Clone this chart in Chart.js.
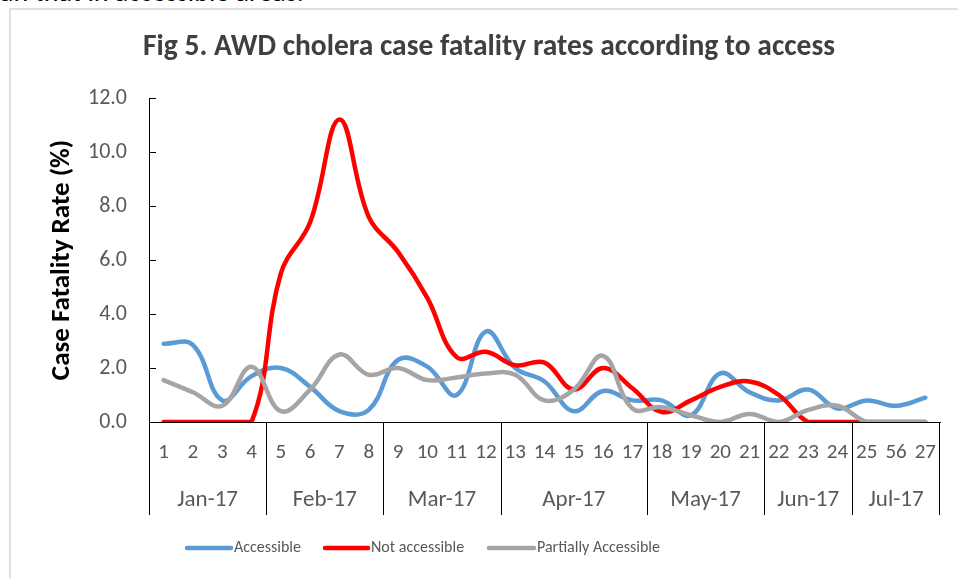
<!DOCTYPE html>
<html lang="en">
<head>
  <meta charset="UTF-8">
  <title>Fig 5. AWD cholera case fatality rates according to access</title>
  <script src="https://cdn.jsdelivr.net/npm/chart.js"></script>
  <style>
    body {
      margin: 0;
      width: 958px;
      height: 578px;
      overflow: hidden;
      background: #fff;
      position: relative;
      font-family: Carlito, Lato, sans-serif;
    }
    .page-text {
      position: absolute;
      left: 0;
      top: -22px;
      font-size: 28px;
      line-height: 28px;
      color: #000;
      white-space: nowrap;
    }
    .frame {
      position: absolute;
      left: 9px;
      top: 8px;
      width: 1000px;
      height: 600px;
      border-left: 2px solid #e0e0e0;
      border-top: 2px solid #e0e0e0;
    }
    canvas {
      position: absolute;
      left: 0;
      top: 0;
    }
  </style>
</head>
<body>
  <div class="page-text">an that in accessible areas.</div>
  <div class="frame"></div>
  <canvas id="cfrChart" width="958" height="578"></canvas>

  <script>
    const FONT = 'Carlito, Lato, sans-serif';

    // week labels along the x axis (the 26th reads "56" in the source)
    const weeks = ['1', '2', '3', '4', '5', '6', '7', '8', '9', '10', '11', '12', '13', '14',
      '15', '16', '17', '18', '19', '20', '21', '22', '23', '24', '25', '56', '27'];
    const months = ['Jan-17', 'Feb-17', 'Mar-17', 'Apr-17', 'May-17', 'Jun-17', 'Jul-17'];
    const weeksPerMonth = [4, 4, 4, 5, 4, 3, 3];

    const accessible = [2.9, 2.85, 0.8, 1.7, 2.0, 1.3, 0.4, 0.45, 2.3, 2.05, 1.0, 3.35, 2.0, 1.5,
      0.4, 1.15, 0.8, 0.8, 0.25, 1.8, 1.1, 0.8, 1.2, 0.5, 0.8, 0.6, 0.9];
    const notAccessible = [0, 0, 0, 0, 5.5, 7.4, 11.2, 7.6, 6.3, 4.6, 2.4, 2.6, 2.1, 2.2,
      1.2, 2.0, 1.25, 0.37, 0.8, 1.3, 1.5, 1.0, 0, 0, 0, 0, 0];
    const partiallyAccessible = [1.55, 1.1, 0.6, 2.05, 0.4, 1.2, 2.5, 1.75, 2.0, 1.55, 1.65, 1.8, 1.75, 0.8,
      1.2, 2.45, 0.5, 0.55, 0.25, 0, 0.3, 0, 0.45, 0.6, 0, 0, 0];

    const seriesNames = ['Accessible', 'Not accessible', 'Partially Accessible'];
    const seriesColors = ['#5B9BD5', '#FF0000', '#A5A5A5'];

    // font size that makes text span the given width
    function fitSize(ctx, text, width, weight) {
      ctx.font = weight + ' 100px ' + FONT;
      return 100 * width / ctx.measureText(text).width;
    }

    const decorations = {
      id: 'decorations',
      afterDraw(chart) {
        const { ctx, chartArea, scales: { x, y } } = chart;
        ctx.save();

        // inside tick marks on the value axis
        ctx.strokeStyle = '#000';
        ctx.lineWidth = 1;
        y.ticks.forEach(t => {
          const py = Math.round(y.getPixelForValue(t.value)) + 0.5;
          ctx.beginPath();
          ctx.moveTo(chartArea.left, py);
          ctx.lineTo(chartArea.left + 7, py);
          ctx.stroke();
        });

        // month groups under the week numbers
        const step = x.getPixelForValue(1) - x.getPixelForValue(0);
        const lineBottom = chartArea.bottom + 93;
        ctx.fillStyle = '#595959';
        ctx.font = '23px ' + FONT;
        ctx.textAlign = 'center';
        ctx.textBaseline = 'middle';
        let start = 0;
        weeksPerMonth.forEach((n, i) => {
          const x0 = x.getPixelForValue(start) - step / 2;
          const x1 = x.getPixelForValue(start + n - 1) + step / 2;
          const px = Math.round(x0) + 0.5;
          ctx.beginPath();
          ctx.moveTo(px, chartArea.bottom);
          ctx.lineTo(px, lineBottom);
          ctx.stroke();
          ctx.fillText(months[i], (x0 + x1) / 2, 500);
          start += n;
        });
        const xr = Math.round(chartArea.right) - 0.5;
        ctx.beginPath();
        ctx.moveTo(xr, chartArea.bottom);
        ctx.lineTo(xr, lineBottom);
        ctx.stroke();

        // title
        const title = 'Fig 5. AWD cholera case fatality rates according to access';
        const ts = fitSize(ctx, title, 692, 'bold');
        ctx.font = 'bold ' + ts + 'px ' + FONT;
        ctx.fillStyle = '#404040';
        ctx.textAlign = 'center';
        ctx.fillText(title, 489, 48);

        // legend
        const legendLines = [[187, 231], [325, 368], [489, 534]];
        ctx.font = '16px ' + FONT;
        ctx.textAlign = 'left';
        ctx.lineCap = 'round';
        ctx.lineWidth = 4.5;
        seriesNames.forEach((name, i) => {
          const [a, b] = legendLines[i];
          ctx.strokeStyle = seriesColors[i];
          ctx.beginPath();
          ctx.moveTo(a, 548);
          ctx.lineTo(b, 548);
          ctx.stroke();
          ctx.fillStyle = '#595959';
          ctx.fillText(name, b + 3, 548);
        });

        ctx.restore();
      }
    };

    const series = [accessible, notAccessible, partiallyAccessible];

    new Chart(document.getElementById('cfrChart'), {
      type: 'line',
      data: {
        labels: weeks,
        datasets: series.map((d, i) => ({
          label: seriesNames[i],
          data: d,
          borderColor: seriesColors[i],
          backgroundColor: seriesColors[i],
          borderWidth: 4.5,
          borderCapStyle: 'round',
          borderJoinStyle: 'round',
          pointRadius: 0,
          pointHoverRadius: 0,
          tension: 0.4,
          order: 3 - i
        }))
      },
      options: {
        responsive: false,
        animation: false,
        events: [],
        layout: { padding: { top: 98, right: 18, left: 0, bottom: 0 } },
        plugins: {
          legend: { display: false },
          title: { display: false },
          tooltip: { enabled: false }
        },
        scales: {
          x: {
            offset: true,
            grid: { display: false, drawTicks: false },
            border: { display: true, color: '#000', width: 1 },
            ticks: {
              autoSkip: false,
              maxRotation: 0,
              padding: 18,
              color: '#595959',
              font: { family: FONT, size: 21 }
            },
            afterFit(scale) { scale.height = 156; }
          },
          y: {
            min: 0,
            max: 12,
            grid: { display: false, drawTicks: false },
            border: { display: true, color: '#000', width: 1 },
            ticks: {
              stepSize: 2,
              padding: 22,
              color: '#595959',
              font: { family: FONT, size: 22 },
              callback: v => v.toFixed(1)
            },
            title: {
              display: true,
              text: 'Case Fatality Rate (%)',
              color: '#000',
              font: { family: FONT, size: 27, weight: 'bold' },
              padding: { top: 46, bottom: 0 }
            },
            afterFit(scale) { scale.width = 149; }
          }
        }
      },
      plugins: [decorations]
    });
  </script>
</body>
</html>
